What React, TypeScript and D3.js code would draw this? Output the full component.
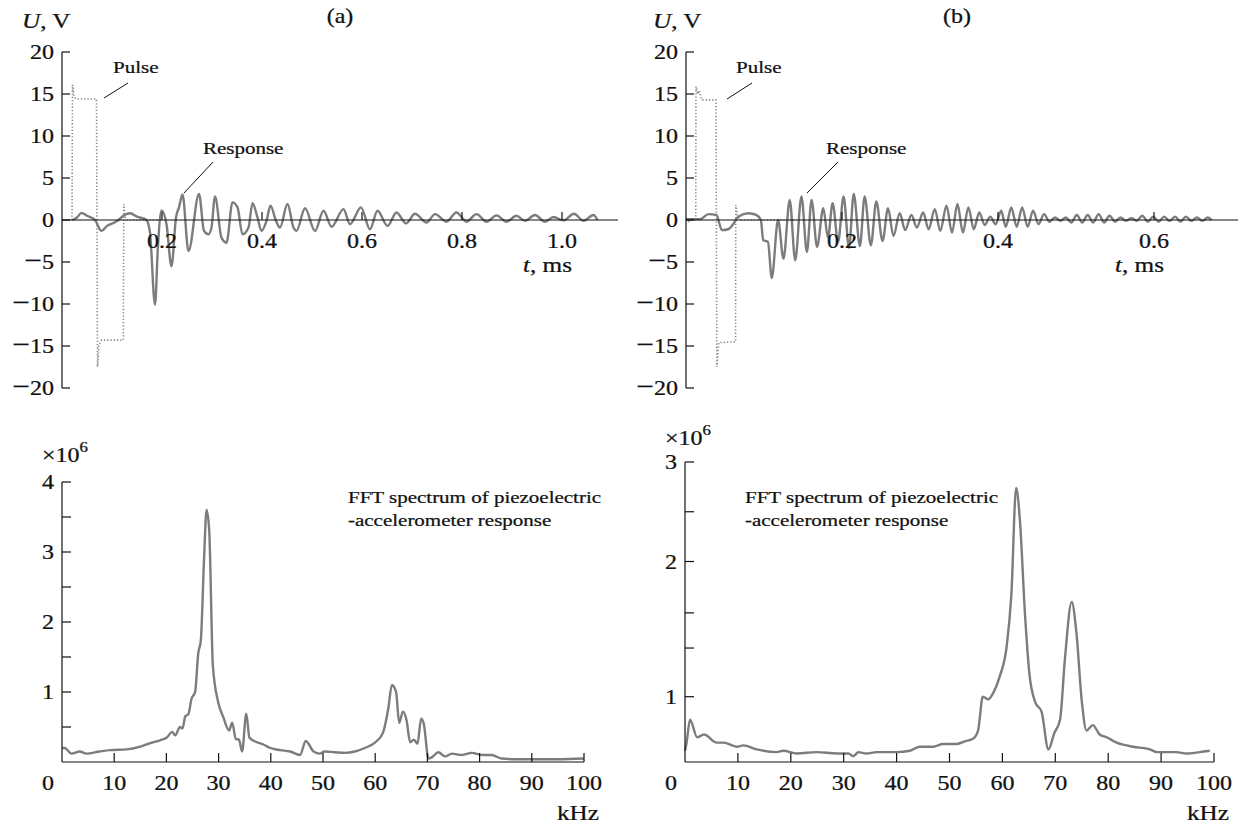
import React from "react";
import * as d3 from "d3";

// ---------- DATA ----------
// Panel (a) time traces: [t (ms), U (V)]
const pulseA: [number, number][] = [
  [0, 0], [0.02, 0], [0.021, 16.1], [0.024, 14.8], [0.028, 14.4], [0.069, 14.4],
  [0.071, -17.5], [0.074, -14.9], [0.079, -14.3], [0.1227, -14.3], [0.1235, 1.9],
  [0.126, 0.4], [0.13, 0], [0.2, 0],
];
const responseA: [number, number][] = [
  [0.021, 0], [0.03, 0.3], [0.039, 0.85], [0.05, 0.5], [0.066, 0], [0.079, -1.3], [0.09, -0.7],
  [0.105, -0.3], [0.113, 0], [0.125, 0.6], [0.136, 0.8], [0.15, 0.4], [0.169, 0], [0.176, -1.5],
  [0.186, -10.1], [0.192, -3], [0.199, 1.15], [0.209, -0.5], [0.219, -5.5], [0.228, 0.3],
  [0.234, 1.5], [0.241, 3.05], [0.253, -3.7], [0.274, 3.1], [0.284, -1.3], [0.293, -1.7],
  [0.299, -0.9], [0.306, 2.8], [0.319, -2.1], [0.329, -2.7], [0.341, 2.1], [0.351, 1.5],
  [0.361, -1.7], [0.373, -0.9], [0.381, 2.0], [0.391, 0.3], [0.399, -1.3], [0.409, -0.1],
  [0.417, 1.7], [0.428, -0.1], [0.436, -0.9], [0.451, 1.9], [0.463, -0.9], [0.469, -1.3],
  [0.486, 1.4], [0.506, -1.3], [0.523, 1.1], [0.539, -0.8], [0.563, 1.3], [0.576, -0.5],
  [0.598, 1.5], [0.616, -1.1], [0.631, 1.1], [0.651, -0.7], [0.669, 0.9], [0.688, -0.4],
  [0.706, 0.75], [0.729, -0.3], [0.746, 0.7], [0.769, -0.2], [0.789, 0.9], [0.809, -0.2],
  [0.829, 0.7], [0.849, -0.2], [0.869, 0.55], [0.889, -0.2], [0.909, 0.5], [0.926, -0.1],
  [0.946, 0.6], [0.966, -0.2], [0.983, 0.35], [1.003, -0.05], [1.024, 0.75], [1.043, -0.1],
  [1.063, 0.6], [1.071, 0],
];

// Panel (b) time traces
const pulseB: [number, number][] = [
  [0, 0.2], [0.004, -0.2], [0.008, 0.2], [0.0125, 0], [0.0128, 15.9], [0.015, 15.0],
  [0.017, 15.4], [0.02, 14.3], [0.0385, 14.3], [0.0395, -17.5], [0.042, -14.6],
  [0.0635, -14.5], [0.0638, 1.8], [0.066, 0.5], [0.07, 0], [0.14, 0],
];
const responseB: [number, number][] = [
  [0, 0.1], [0.018, 0.1], [0.029, 0.7], [0.039, 0.6], [0.046, -1.2], [0.054, -1.1], [0.062, -0.3],
  [0.067, 0.4], [0.08, 0.8], [0.09, 0.6], [0.096, 0], [0.099, -2.4], [0.105, -2.6], [0.11, -6.9],
  [0.118, 0.0], [0.125, -4.6], [0.133, 2.4], [0.14, -4.8], [0.148, 2.8], [0.155, -3.8],
  [0.161, 2.4], [0.168, -3.2], [0.176, 1.4], [0.182, -2.1], [0.188, 2.0], [0.195, -2.6],
  [0.202, 2.8], [0.209, -3.3], [0.215, 3.1], [0.223, -3.1], [0.229, 2.8], [0.237, -3.0],
  [0.244, 2.2], [0.252, -2.5], [0.259, 1.4], [0.266, -1.9], [0.274, 0.8], [0.281, -1.2],
  [0.289, 0.6], [0.296, -0.9], [0.304, 0.9], [0.311, -1.1], [0.319, 1.3], [0.326, -1.3],
  [0.334, 1.7], [0.341, -1.5], [0.348, 1.9], [0.355, -1.5], [0.362, 1.5], [0.369, -1.1],
  [0.376, 0.9], [0.383, -0.6], [0.39, 0.4], [0.397, -0.5], [0.404, 1.1], [0.41, -0.8],
  [0.417, 1.5], [0.424, -0.8], [0.431, 1.5], [0.438, -0.8], [0.445, 1.1], [0.452, -0.5],
  [0.459, 0.7], [0.466, -0.2], [0.473, 0.3], [0.48, -0.1], [0.487, 0.3], [0.494, -0.3],
  [0.501, 0.6], [0.508, -0.3], [0.515, 0.6], [0.522, -0.3], [0.529, 0.7], [0.536, -0.3],
  [0.543, 0.5], [0.55, -0.2], [0.557, 0.3], [0.564, -0.1], [0.571, 0.2], [0.578, -0.1],
  [0.585, 0.5], [0.592, -0.2], [0.599, 0.4], [0.606, -0.2], [0.613, 0.4], [0.62, -0.1],
  [0.627, 0.4], [0.634, -0.2], [0.641, 0.4], [0.648, -0.1], [0.655, 0.3], [0.662, -0.1],
  [0.669, 0.3], [0.674, 0],
];

// Spectra: [f (kHz), amplitude (×10^6)]
const spectrumA: [number, number][] = [
  [0, 0.2], [0.5, 0.2], [1.8, 0.12], [3.4, 0.15], [4.7, 0.12], [7.2, 0.15], [9.2, 0.17],
  [12.4, 0.18], [15.0, 0.22], [16.9, 0.27], [18.8, 0.31], [20.1, 0.35], [21.1, 0.43],
  [21.7, 0.38], [22.6, 0.5], [23.1, 0.48], [23.6, 0.65], [24.2, 0.68], [24.8, 0.9],
  [25.5, 1.0], [26.1, 1.55], [26.6, 1.74], [27.2, 2.88], [27.7, 3.6], [28.2, 3.31],
  [28.9, 1.38], [29.9, 0.86], [30.9, 0.64], [32.0, 0.45], [32.6, 0.56], [33.3, 0.33],
  [33.9, 0.32], [34.5, 0.15], [35.3, 0.69], [35.9, 0.35], [36.8, 0.3], [38.6, 0.25],
  [39.9, 0.2], [41.8, 0.17], [43.7, 0.15], [45.6, 0.1], [46.7, 0.3], [48.2, 0.15],
  [49.4, 0.12], [50.3, 0.15], [52.2, 0.14], [54.2, 0.13], [56.1, 0.15], [58.0, 0.2],
  [60.0, 0.28], [61.5, 0.42], [62.5, 0.76], [63.2, 1.1], [64.0, 1.0], [64.6, 0.56],
  [65.3, 0.72], [66.0, 0.6], [66.7, 0.28], [67.4, 0.32], [68.1, 0.26], [68.8, 0.62],
  [69.3, 0.55], [70.2, 0.05], [70.9, 0.07], [72.1, 0.14], [73.4, 0.08], [74.7, 0.12],
  [76.6, 0.1], [78.5, 0.13], [80.4, 0.1], [82.3, 0.1], [84.2, 0.05], [87.0, 0.04],
  [90.1, 0.04], [95.0, 0.04], [100, 0.05],
];
const spectrumB: [number, number][] = [
  [0, 0.6], [0.3, 0.66], [0.95, 0.83], [2.3, 0.7], [3.6, 0.72], [6.0, 0.66], [7.3, 0.66],
  [9.8, 0.63], [11.0, 0.64], [13.6, 0.61], [17.3, 0.59], [18.6, 0.6], [21.1, 0.58],
  [24.9, 0.59], [28.7, 0.58], [30.9, 0.58], [31.8, 0.56], [32.8, 0.59], [34.3, 0.58],
  [36.2, 0.59], [40.0, 0.59], [42.5, 0.6], [44.4, 0.63], [46.9, 0.63], [48.8, 0.65],
  [51.4, 0.65], [52.9, 0.67], [54.5, 0.69], [55.4, 0.75], [56.3, 1.0], [57.3, 0.98],
  [58.3, 1.03], [59.5, 1.15], [60.8, 1.37], [61.7, 1.76], [62.6, 2.74], [63.3, 2.42],
  [64.3, 1.59], [65.1, 1.17], [66.2, 0.96], [67.4, 0.89], [68.7, 0.61], [69.8, 0.73],
  [70.9, 0.83], [71.8, 1.27], [73.1, 1.7], [74.0, 1.47], [75.0, 0.97], [75.9, 0.75],
  [77.1, 0.79], [78.4, 0.72], [79.7, 0.7], [81.6, 0.66], [84.7, 0.63], [87.9, 0.61],
  [89.2, 0.59], [92.9, 0.59], [94.8, 0.58], [97.3, 0.59], [99.2, 0.6],
];

// Tick values / labels
const voltTicks = [-20, -15, -10, -5, 0, 5, 10, 15, 20];
const timeTicksA = [0.2, 0.4, 0.6, 0.8, 1.0];
const timeTicksB = [0.2, 0.4, 0.6];
const freqTicks = [10, 20, 30, 40, 50, 60, 70, 80, 90, 100];
const ampTicksA = [1, 2, 3, 4];
const ampMinorA = [0.5, 1.5, 2.5, 3.5];
const ampTicksB = [1, 2, 3];
const ampMinorB = [1.36, 1.62, 2.5];

// ---------- STYLE ----------
const FONT = '"Liberation Serif", "Times New Roman", Times, serif';
const SX = 1.2;
const GRAY = "#7c7c7c";

function T(props: {
  x: number; y: number; anchor?: "start" | "middle" | "end"; size?: number; children: any;
}) {
  const { x, y, anchor = "start", size = 20, children } = props;
  return (
    <text
      transform={`translate(${x},${y}) scale(${SX},1)`}
      textAnchor={anchor}
      fontSize={size}
      fontFamily={FONT}
      fill="#111"
      stroke="#111"
      strokeWidth={0.25}
    >
      {children}
    </text>
  );
}

const NumLabel = ({ v }: { v: number }) =>
  v < 0 ? (
    <>
      <tspan fontSize={26}>{"\u2212"}</tspan>
      {String(Math.abs(v))}
    </>
  ) : (
    <>{String(v)}</>
  );

function TimePanel(props: {
  x0: number; pxPerMs: number; axisEnd: number; pulse: [number, number][];
  resp: [number, number][]; ticks: number[]; title: string; tLabelX: number;
  pulseX: number; pulseLine: [number, number, number, number];
  respX: number; respLine: [number, number, number, number]; uX: number; titleX: number;
}) {
  const p = props;
  const x = d3.scaleLinear().domain([0, 1]).range([p.x0, p.x0 + p.pxPerMs]);
  const y = d3.scaleLinear().domain([-20, 20]).range([388, 52]);
  const smooth = d3.line<[number, number]>().x((d) => x(d[0])).y((d) => y(d[1])).curve(d3.curveMonotoneX);
  const straight = d3.line<[number, number]>().x((d) => x(d[0])).y((d) => y(d[1]));
  return (
    <g>
      <path d={straight(p.pulse) || ""} fill="none" stroke="#8a8a8a" strokeWidth={1.6} strokeDasharray="1.3,2" />
      <path d={smooth(p.resp) || ""} fill="none" stroke={GRAY} strokeWidth={2.4} strokeLinejoin="round" />
      {/* y axis */}
      <line x1={p.x0} x2={p.x0} y1={y(20)} y2={y(-20)} stroke="#111" strokeWidth={1.2} />
      {voltTicks.map((v) => (
        <g key={v}>
          <line x1={p.x0} x2={p.x0 + 8} y1={y(v)} y2={y(v)} stroke="#111" strokeWidth={1.2} />
          <T x={p.x0 - 8} y={y(v) + 7} anchor="end"><NumLabel v={v} /></T>
        </g>
      ))}
      {/* time axis at zero */}
      <line x1={p.x0} x2={p.axisEnd} y1={y(0)} y2={y(0)} stroke="#111" strokeWidth={1.2} />
      {p.ticks.map((t) => (
        <g key={t}>
          <line x1={x(t)} x2={x(t)} y1={y(0)} y2={y(0) - 8} stroke="#111" strokeWidth={1.2} />
          <T x={x(t)} y={248} anchor="middle">{t.toFixed(1)}</T>
        </g>
      ))}
      <T x={p.tLabelX} y={272} size={21}>
        <tspan fontStyle="italic">t</tspan>, ms
      </T>
      <T x={p.uX} y={28} size={21}>
        <tspan fontStyle="italic">U</tspan>, V
      </T>
      <T x={p.titleX} y={23} anchor="middle">{p.title}</T>
      <T x={p.pulseX} y={73} size={17.5}>Pulse</T>
      <line x1={p.pulseLine[0]} y1={p.pulseLine[1]} x2={p.pulseLine[2]} y2={p.pulseLine[3]} stroke="#111" strokeWidth={1} />
      <T x={p.respX} y={154} size={17.5}>Response</T>
      <line x1={p.respLine[0]} y1={p.respLine[1]} x2={p.respLine[2]} y2={p.respLine[3]} stroke="#111" strokeWidth={1} />
    </g>
  );
}

function SpecPanel(props: {
  x0: number; x1: number; y: d3.ScaleLinear<number, number>; top: number;
  data: [number, number][]; major: number[]; minor: number[]; expX: number; expY: number;
  fftX: number;
}) {
  const p = props;
  const bottom = 762;
  const x = d3.scaleLinear().domain([0, 100]).range([p.x0, p.x1]);
  const line = d3.line<[number, number]>().x((d) => x(d[0])).y((d) => p.y(d[1])).curve(d3.curveMonotoneX);
  return (
    <g>
      <path d={line(p.data) || ""} fill="none" stroke={GRAY} strokeWidth={2.4} strokeLinejoin="round" />
      <line x1={p.x0} x2={p.x0} y1={p.top} y2={bottom} stroke="#111" strokeWidth={1.2} />
      <line x1={p.x0} x2={p.x1} y1={bottom} y2={bottom} stroke="#111" strokeWidth={1.2} />
      {p.major.map((v) => (
        <g key={"M" + v}>
          <line x1={p.x0} x2={p.x0 + 9} y1={p.y(v)} y2={p.y(v)} stroke="#111" strokeWidth={1.2} />
          <T x={p.x0 - 8} y={p.y(v) + 7} anchor="end">{String(v)}</T>
        </g>
      ))}
      {p.minor.map((v) => (
        <line key={"m" + v} x1={p.x0} x2={p.x0 + 9} y1={p.y(v)} y2={p.y(v)} stroke="#111" strokeWidth={1.2} />
      ))}
      {freqTicks.map((f) => (
        <g key={f}>
          <line x1={x(f)} x2={x(f)} y1={bottom} y2={bottom - 9} stroke="#111" strokeWidth={1.2} />
          <T x={x(f)} y={790} anchor="middle">{String(f)}</T>
        </g>
      ))}
      <T x={p.x0 - 14} y={790} anchor="middle">0</T>
      <T x={x(100) - 27} y={820} size={21}>kHz</T>
      <T x={p.expX} y={p.expY}>
        ×10<tspan fontSize={14} dy={-10}>6</tspan>
      </T>
      <T x={p.fftX} y={503} size={17.5}>FFT spectrum of piezoelectric</T>
      <T x={p.fftX} y={526} size={17.5}>-accelerometer response</T>
    </g>
  );
}

export default function App() {
  const yA = d3.scaleLinear().domain([0, 4]).range([762, 482]);
  const yB = d3.scaleLinear().domain([0.5, 2, 3]).range([764.3, 561.5, 462]);
  return (
    <svg
      width={1238}
      height={825}
      style={{ position: "absolute", left: 0, top: 0, background: "#fff" }}
    >
      <rect width={1238} height={825} fill="#fff" />
      <TimePanel
        x0={62} pxPerMs={500} axisEnd={618} pulse={pulseA} resp={responseA}
        ticks={timeTicksA} title="(a)" tLabelX={523} pulseX={113}
        pulseLine={[104, 98, 128, 83]} respX={203} respLine={[184, 193, 213, 162]}
        uX={22} titleX={340}
      />
      <TimePanel
        x0={686} pxPerMs={780} axisEnd={1238} pulse={pulseB} resp={responseB}
        ticks={timeTicksB} title="(b)" tLabelX={1115} pulseX={736}
        pulseLine={[727, 99, 752, 83]} respX={826} respLine={[807, 193, 838, 162]}
        uX={653} titleX={957}
      />
      <SpecPanel
        x0={62} x1={584} y={yA} top={482} data={spectrumA} major={ampTicksA}
        minor={ampMinorA} expX={42} expY={462} fftX={348}
      />
      <SpecPanel
        x0={685} x1={1214} y={yB} top={462} data={spectrumB} major={ampTicksB}
        minor={ampMinorB} expX={665} expY={445} fftX={745}
      />
    </svg>
  );
}
